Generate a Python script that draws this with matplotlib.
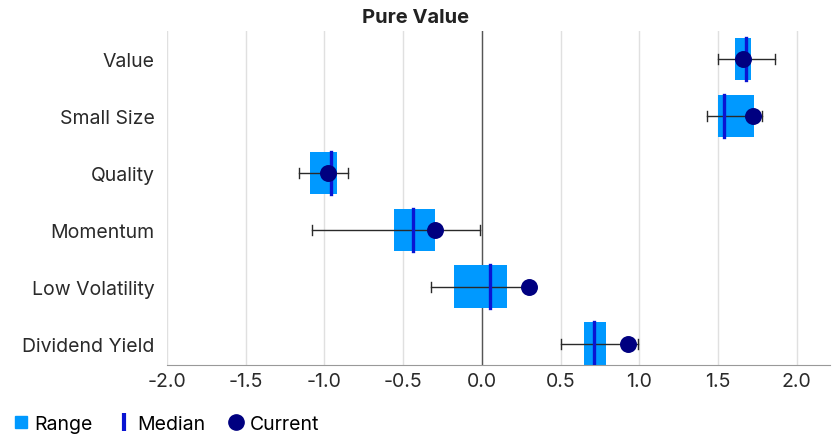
import numpy as np
import matplotlib.pyplot as plt
from matplotlib.lines import Line2D

plt.rcParams['font.family'] = ['Inter', 'DejaVu Sans']

# Data
factors = ['Value', 'Small Size', 'Quality', 'Momentum', 'Low Volatility', 'Dividend Yield']
range_lo = [1.61, 1.50, -1.09, -0.56, -0.18, 0.65]
range_hi = [1.71, 1.73, -0.92, -0.30, 0.16, 0.79]
median = [1.68, 1.54, -0.96, -0.44, 0.05, 0.71]
current = [1.66, 1.72, -0.98, -0.30, 0.30, 0.93]
whisk_lo = [1.50, 1.43, -1.16, -1.08, -0.32, 0.50]
whisk_hi = [1.86, 1.78, -0.85, -0.01, 0.30, 0.99]

box_c = '#0099ff'
med_c = '#0a14d2'
cur_c = '#000080'

fig = plt.figure(figsize=(8.34, 4.35), dpi=100)
ax = fig.add_axes([0.2002, 0.159, 0.7948, 0.767])

y = np.arange(len(factors))
box_h = 0.75

# whiskers
for i in range(len(factors)):
    ax.plot([whisk_lo[i], whisk_hi[i]], [y[i], y[i]], color='#2a2a2a', lw=1.0, zorder=3)
    for xv in (whisk_lo[i], whisk_hi[i]):
        ax.plot([xv, xv], [y[i] - 0.09, y[i] + 0.09], color='#2a2a2a', lw=1.0, zorder=3)

# range boxes
ax.barh(y, np.array(range_hi) - np.array(range_lo), left=range_lo, height=box_h,
        color=box_c, zorder=2)

# medians
for i in range(len(factors)):
    ax.plot([median[i], median[i]], [y[i] - box_h / 2, y[i] + box_h / 2],
            color=med_c, lw=2.4, zorder=4)

# current
ax.scatter(current, y, s=125, color=cur_c, zorder=5)

ax.axvline(0, color='#555555', lw=1.0, zorder=1)

ax.set_xlim(-2.0, 2.21)
ax.set_ylim(5.37, -0.49)
ticks = np.arange(-2.0, 2.01, 0.5)
ax.set_xticks(ticks)
ax.set_xticklabels([f'{t:.1f}' for t in ticks], fontsize=14, color='#2a2a2a')
ax.set_yticks(y)
ax.set_yticklabels(factors, fontsize=14, color='#2a2a2a')
ax.tick_params(axis='x', length=0, pad=5)
ax.tick_params(axis='y', length=0, pad=9)
ax.grid(axis='x', color='#e0e0e0', lw=1.0, zorder=0)
ax.set_axisbelow(True)
for s in ('top', 'right', 'left'):
    ax.spines[s].set_visible(False)
ax.spines['bottom'].set_color('#999999')

fig.text(0.498, 0.958, 'Pure Value', fontsize=14.5, fontweight='bold', color='#222222',
         ha='center', va='center')

handles = [
    Line2D([], [], marker='s', ls='none', color=box_c, markersize=9),
    Line2D([], [], marker='|', ls='none', color=med_c, markersize=13, markeredgewidth=3),
    Line2D([], [], marker='o', ls='none', color=cur_c, markersize=11),
]
fig.legend(handles, ['Range', 'Median', 'Current'], loc='lower left',
           bbox_to_anchor=(-0.008, -0.037), ncol=3, frameon=False, fontsize=14,
           handletextpad=0.2, columnspacing=1.1, handlelength=1.0)

fig.savefig('out.png', dpi=100)
